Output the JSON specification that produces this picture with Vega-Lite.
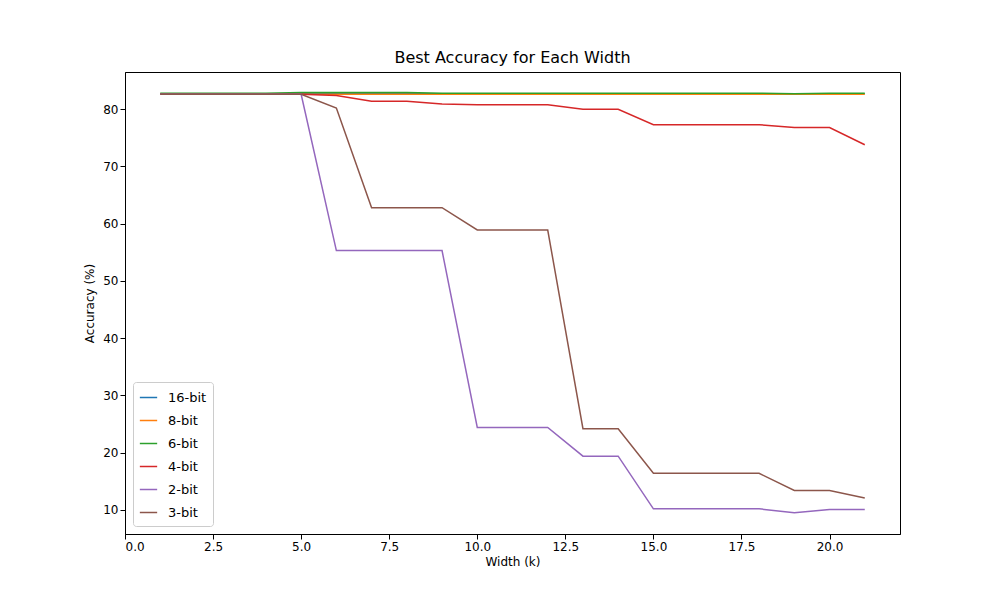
{
"$schema":"https://vega.github.io/schema/vega-lite/v6.json",
"width":775,"height":462,
"autosize":{"type":"none"},
"padding":{"left":125,"top":72,"right":100,"bottom":66},
"background":"white",
"title":{"text":"Best Accuracy for Each Width","fontSize":16,"font":"DejaVu Sans","fontWeight":"normal","offset":6},
"data":{"values":[
{"w":1,"b16":82.7,"b8":82.6,"b6":82.8,"b4":82.6,"b2":82.6,"b3":82.6},
{"w":2,"b16":82.7,"b8":82.6,"b6":82.8,"b4":82.6,"b2":82.6,"b3":82.6},
{"w":3,"b16":82.7,"b8":82.6,"b6":82.8,"b4":82.6,"b2":82.6,"b3":82.6},
{"w":4,"b16":82.7,"b8":82.6,"b6":82.8,"b4":82.6,"b2":82.6,"b3":82.6},
{"w":5,"b16":82.7,"b8":82.6,"b6":82.9,"b4":82.6,"b2":82.6,"b3":82.6},
{"w":6,"b16":82.7,"b8":82.6,"b6":82.9,"b4":82.4,"b2":55.3,"b3":80.2},
{"w":7,"b16":82.7,"b8":82.6,"b6":82.9,"b4":81.4,"b2":55.3,"b3":62.8},
{"w":8,"b16":82.7,"b8":82.6,"b6":82.9,"b4":81.4,"b2":55.3,"b3":62.8},
{"w":9,"b16":82.7,"b8":82.6,"b6":82.8,"b4":80.9,"b2":55.3,"b3":62.8},
{"w":10,"b16":82.7,"b8":82.6,"b6":82.8,"b4":80.8,"b2":24.4,"b3":58.9},
{"w":11,"b16":82.7,"b8":82.6,"b6":82.8,"b4":80.8,"b2":24.4,"b3":58.9},
{"w":12,"b16":82.7,"b8":82.6,"b6":82.8,"b4":80.8,"b2":24.4,"b3":58.9},
{"w":13,"b16":82.7,"b8":82.6,"b6":82.8,"b4":80.0,"b2":19.4,"b3":24.2},
{"w":14,"b16":82.7,"b8":82.6,"b6":82.8,"b4":80.0,"b2":19.4,"b3":24.2},
{"w":15,"b16":82.7,"b8":82.6,"b6":82.8,"b4":77.3,"b2":10.2,"b3":16.4},
{"w":16,"b16":82.7,"b8":82.6,"b6":82.8,"b4":77.3,"b2":10.2,"b3":16.4},
{"w":17,"b16":82.7,"b8":82.6,"b6":82.8,"b4":77.3,"b2":10.2,"b3":16.4},
{"w":18,"b16":82.7,"b8":82.6,"b6":82.8,"b4":77.3,"b2":10.2,"b3":16.4},
{"w":19,"b16":82.7,"b8":82.6,"b6":82.7,"b4":76.8,"b2":9.5,"b3":13.4},
{"w":20,"b16":82.7,"b8":82.6,"b6":82.8,"b4":76.8,"b2":10.1,"b3":13.4},
{"w":21,"b16":82.7,"b8":82.6,"b6":82.8,"b4":73.8,"b2":10.1,"b3":12.1}
]},
"transform":[
{"fold":["b16","b8","b6","b4","b2","b3"],"as":["k","acc"]},
{"lookup":"k","from":{"data":{"values":[{"k":"b16","s":"16-bit"},{"k":"b8","s":"8-bit"},{"k":"b6","s":"6-bit"},{"k":"b4","s":"4-bit"},{"k":"b2","s":"2-bit"},{"k":"b3","s":"3-bit"}]},"key":"k","fields":["s"]}}
],
"mark":{"type":"line","strokeWidth":1.5},
"encoding":{
"x":{"field":"w","type":"quantitative","scale":{"domain":[0,22],"nice":false,"zero":false},
"axis":{"title":"Width (k)","values":[0,2.5,5,7.5,10,12.5,15,17.5,20],"format":".1f","grid":false,"labelFont":"DejaVu Sans","titleFont":"DejaVu Sans","labelFontSize":12,"titleFontSize":12,"titleFontWeight":"normal","labelColor":"black","titleColor":"black","domainColor":"black","tickColor":"black","titlePadding":4}},
"y":{"field":"acc","type":"quantitative","scale":{"domain":[5.8,86.5],"nice":false,"zero":false},
"axis":{"title":"Accuracy (%)","values":[10,20,30,40,50,60,70,80],"grid":false,"labelFont":"DejaVu Sans","titleFont":"DejaVu Sans","labelFontSize":12,"titleFontSize":12,"titleFontWeight":"normal","labelColor":"black","titleColor":"black","domainColor":"black","tickColor":"black","titlePadding":6}},
"color":{"field":"s","type":"nominal","sort":["16-bit","8-bit","6-bit","4-bit","2-bit","3-bit"],
"scale":{"domain":["16-bit","8-bit","6-bit","4-bit","2-bit","3-bit"],"range":["#1f77b4","#ff7f0e","#2ca02c","#d62728","#9467bd","#8c564b"]},
"legend":{"title":null,"orient":"bottom-left","offset":8,"symbolType":"stroke","symbolStrokeWidth":1.5,"symbolSize":300,"labelFont":"DejaVu Sans","labelFontSize":13,"strokeColor":"#cccccc","fillColor":"white","padding":6,"cornerRadius":3,"rowPadding":6,"labelOffset":10}}
},
"config":{"view":{"stroke":"black"}}
}
